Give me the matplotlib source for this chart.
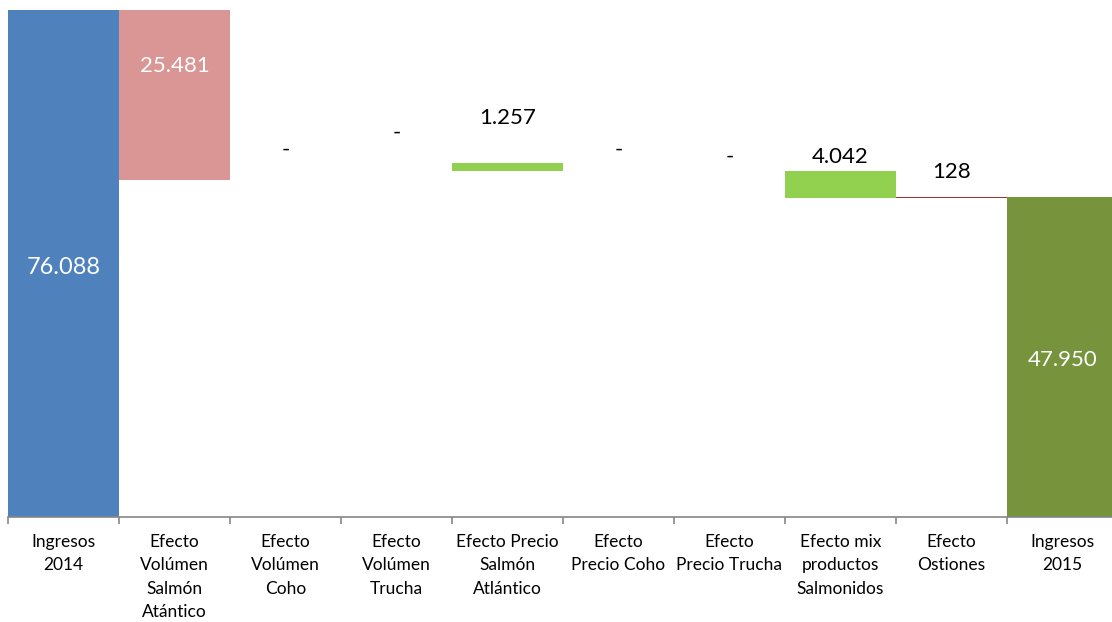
import matplotlib
matplotlib.use("Agg")
import matplotlib.pyplot as plt
import numpy as np

categories = ["Ingresos\n2014", "Efecto\nVolúmen\nSalmón\nAtántico", "Efecto\nVolúmen\nCoho",
              "Efecto\nVolúmen\nTrucha", "Efecto Precio\nSalmón\nAtlántico", "Efecto\nPrecio Coho",
              "Efecto\nPrecio Trucha", "Efecto mix\nproductos\nSalmonidos", "Efecto\nOstiones",
              "Ingresos\n2015"]
# visible bar heights and invisible bases (as drawn in the original chart)
heights = [76088, 25481, 0, 0, 1257, 0, 0, 4042, 128, 47950]
bases = [0, 50607, 0, 0, 51864, 0, 0, 47822, 47822, 0]
labels = ["76.088", "25.481", "-", "-", "1.257", "-", "-", "4.042", "128", "47.950"]
label_y = [37500, 67690, 55080, 57630, 59880, 55080, 54030, 54030, 51780, 23600]
colors = ["#4F81BD", "#D99694", "#92D050", "#92D050", "#92D050", "#92D050", "#92D050",
          "#92D050", "#A8322D", "#77933C"]
label_colors = ["white", "white", "black", "black", "black", "black", "black", "black",
                "black", "white"]
label_sizes = [17, 16, 16, 16, 16, 16, 16, 16, 16, 16]

plt.rcParams['font.family'] = ['Lato', 'DejaVu Sans']

fig = plt.figure(figsize=(11.12, 6.22), dpi=100)
ax = fig.add_axes([8/1112, 105/622, 1110/1112, 507/622])
x = np.arange(len(categories))
ax.bar(x, heights, bottom=bases, width=1.0, color=colors, linewidth=0)
for xi, lab, ly, lc, ls in zip(x, labels, label_y, label_colors, label_sizes):
    ax.text(xi, ly, lab, ha="center", va="center", fontsize=ls, color=lc)

ax.set_xlim(-0.5, len(categories) - 0.5)
ax.set_ylim(0, 76088)
for s in ["top", "right", "left"]:
    ax.spines[s].set_visible(False)
ax.spines["bottom"].set_color("#868686")
ax.spines["bottom"].set_linewidth(1.2)
ax.set_yticks([])
ax.set_xticks(np.arange(-0.5, len(categories), 1.0))
ax.set_xticklabels([])
ax.tick_params(axis="x", direction="out", length=5, color="#868686", width=1.2)
ax.set_xticks(x, minor=True)
ax.set_xticklabels(categories, minor=True, fontsize=12.5, linespacing=1.58, va="top")
ax.tick_params(axis="x", which="minor", length=0, pad=12)

fig.savefig("out.png", dpi=100)
